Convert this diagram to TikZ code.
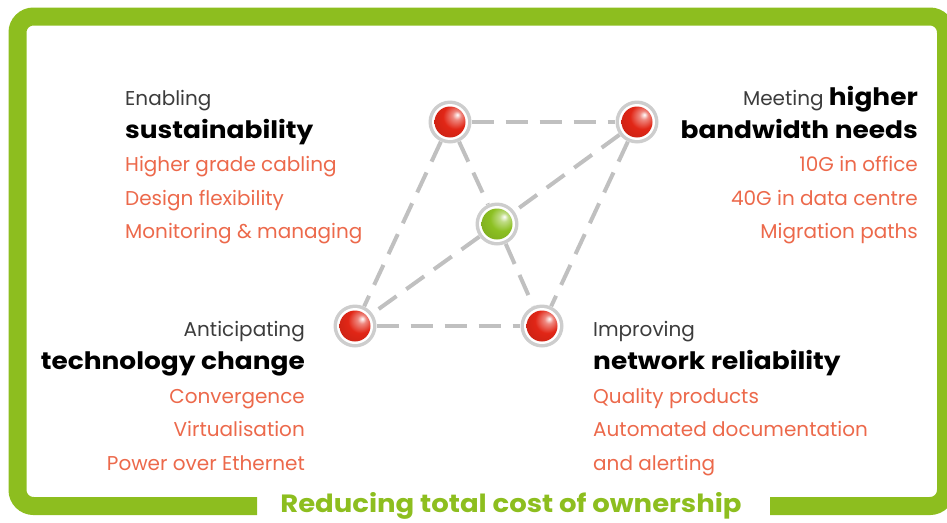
\documentclass[tikz,border=0pt]{standalone}
\usepackage{fontspec}
\setmainfont{Poppins}
\newfontfamily\headfont{Poppins}[FakeStretch=1.1]
\definecolor{framegreen}{RGB}{141,190,31}
\definecolor{textgray}{RGB}{60,60,60}
\definecolor{accent}{RGB}{236,105,75}
\definecolor{dashgray}{RGB}{192,192,192}
\definecolor{ringgray}{RGB}{205,205,205}
\definecolor{ballred}{RGB}{225,38,22}
\definecolor{ballgreen}{RGB}{140,192,34}
\pgfdeclareradialshading{redgloss}{\pgfpoint{12bp}{12bp}}{color(0bp)=(white); color(7bp)=(ballred!55!white); color(20bp)=(ballred); color(45bp)=(ballred!85!black); color(70bp)=(ballred!65!black)}
\pgfdeclareradialshading{greengloss}{\pgfpoint{12bp}{12bp}}{color(0bp)=(white); color(7bp)=(ballgreen!55!white); color(20bp)=(ballgreen); color(45bp)=(ballgreen!85!black); color(70bp)=(ballgreen!65!black)}
\tikzset{
  frame/.style={draw=framegreen, line width=18pt, rounded corners=16pt},
  link/.style={draw=dashgray, line width=4pt, dash pattern=on 22pt off 12pt},
  ring/.style={circle, fill=ringgray, minimum size=43pt, inner sep=0pt,
    path picture={
      \fill[white] (path picture bounding box.center) circle (18pt);
      \shade[shading=#1] (path picture bounding box.center) circle (15.5pt);
    }},
  ring/.default=redgloss,
  lead/.style={inner sep=0pt, text=textgray, font=\fontsize{20}{22}\selectfont},
  head/.style={inner sep=0pt, text=black, font=\fontsize{24}{26}\headfont\bfseries},
  item/.style={inner sep=0pt, text=accent, font=\fontsize{20}{22}\selectfont},
}
\begin{document}
\begin{tikzpicture}[x=1pt, y=-1pt]
  \useasboundingbox (0,0) rectangle (947,522);

  % outer frame, open at the bottom for the title
  \draw[frame] (257,506) -- (17.5,506) -- (17.5,16.5) -- (946,16.5) -- (946,506) -- (770,506);
  \node[text=framegreen, font=\fontsize{25}{27}\headfont\bfseries] (title) at (511,506) {Reducing total cost of ownership};

  % the five balls
  \node[ring] (tl) at (450,122) {};
  \node[ring] (tr) at (637,122) {};
  \node[ring=greengloss] (mid) at (497,224) {};
  \node[ring] (bl) at (355,326) {};
  \node[ring] (br) at (542,326) {};

  \draw[link] (tl) -- (tr);
  \draw[link] (tl) -- (mid);
  \draw[link] (tl) -- (bl);
  \draw[link] (tr) -- (mid);
  \draw[link] (tr) -- (br);
  \draw[link] (mid) -- (bl);
  \draw[link] (mid) -- (br);
  \draw[link] (bl) -- (br);

  % top left
  \node[lead, anchor=base west] (tl1) at (125,105) {Enabling};
  \node[head, anchor=base west] (tl2) at (125,138) {sustainability};
  \node[item, anchor=base west] (tl3) at (125,171) {Higher grade cabling};
  \node[item, anchor=base west] (tl4) at (125,205) {Design flexibility};
  \node[item, anchor=base west] (tl5) at (125,238) {Monitoring \& managing};

  % top right
  \node[lead, anchor=base east] (tr1) at (918,105) {Meeting {\color{black}\fontsize{24}{26}\headfont\bfseries higher}};
  \node[head, anchor=base east] (tr2) at (918,138) {bandwidth needs};
  \node[item, anchor=base east] (tr3) at (918,171) {10G in office};
  \node[item, anchor=base east] (tr4) at (918,205) {40G in data centre};
  \node[item, anchor=base east] (tr5) at (918,238) {Migration paths};

  % bottom left
  \node[lead, anchor=base east] (bl1) at (305,336) {Anticipating};
  \node[head, anchor=base east] (bl2) at (305,369) {technology change};
  \node[item, anchor=base east] (bl3) at (305,403) {Convergence};
  \node[item, anchor=base east] (bl4) at (305,436) {Virtualisation};
  \node[item, anchor=base east] (bl5) at (305,470) {Power over Ethernet};

  % bottom right
  \node[lead, anchor=base west] (br1) at (593,336) {Improving};
  \node[head, anchor=base west] (br2) at (593,369) {network reliability};
  \node[item, anchor=base west] (br3) at (593,403) {Quality products};
  \node[item, anchor=base west] (br4) at (593,436) {Automated documentation};
  \node[item, anchor=base west] (br5) at (593,470) {and alerting};
\end{tikzpicture}
\end{document}
